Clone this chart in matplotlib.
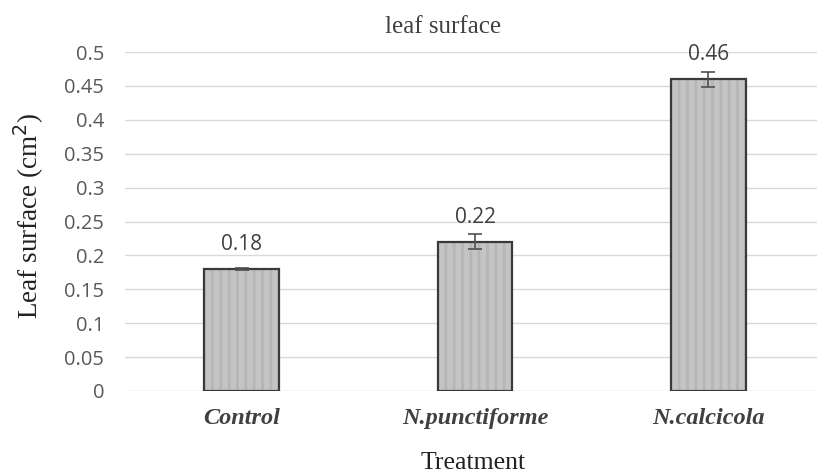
import matplotlib
matplotlib.use("Agg")
import matplotlib.pyplot as plt
import numpy as np

categories = ["Control", "N.punctiforme", "N.calcicola"]
values = [0.18, 0.22, 0.46]
errors = [0.001, 0.011, 0.011]
yticks = [0, 0.05, 0.1, 0.15, 0.2, 0.25, 0.3, 0.35, 0.4, 0.45, 0.5]
ytick_labels = ["0", "0.05", "0.1", "0.15", "0.2", "0.25", "0.3", "0.35", "0.4", "0.45", "0.5"]

plt.rcParams["hatch.linewidth"] = 2.0

fig = plt.figure(figsize=(8.17, 4.76), dpi=100)
ax = fig.add_axes([125 / 817, 1 - 391 / 476, 700 / 817, (391 - 52) / 476])

x = np.arange(len(categories))
# striped grey fill, then the dark outline on top
ax.bar(x, values, width=0.32, color="#c4c4c4", edgecolor="#b6b6b6",
       linewidth=0, hatch="||", zorder=3)
ax.bar(x, values, width=0.32, fill=False, edgecolor="#3a3a3a",
       linewidth=1.6, zorder=4)
ax.errorbar(x, values, yerr=errors, fmt="none", ecolor="#505050",
            elinewidth=1.2, capsize=5, capthick=1.2, zorder=5)

for xi, v in zip(x, values):
    ax.text(xi, v + 0.021, f"{v:g}", ha="center", va="bottom",
            fontsize=15, color="#404040", family="Open Sans")

ax.set_xlim(-0.5, 2.5)
ax.set_ylim(0, 0.5)
ax.set_yticks(yticks)
ax.set_yticklabels(ytick_labels, family="Open Sans", fontsize=14.5, color="#595959")
ax.set_xticks(x)
ax.set_xticklabels(categories, family="Liberation Serif", fontsize=17.5,
                   fontweight="bold", fontstyle="italic", color="#404040")
ax.tick_params(axis="both", length=0)
ax.tick_params(axis="y", pad=15)
ax.tick_params(axis="x", pad=12)
ax.grid(axis="y", color="#d9d9d9", linewidth=1, zorder=0)
for s in ax.spines.values():
    s.set_visible(False)

fig.text(443 / 817, 1 - 27 / 476, "leaf surface", ha="center", va="center",
         family="Liberation Serif", fontsize=18, color="#404040")
fig.text(29 / 817, 1 - 216 / 476, "Leaf surface (cm$^{2}$)", ha="center", va="center",
         rotation=90, family="Liberation Serif", fontsize=19.5, color="#222222")
fig.text(473 / 817, 1 - 463 / 476, "Treatment", ha="center", va="center",
         family="Liberation Serif", fontsize=18.5, color="#222222")

fig.savefig("out.png", dpi=100)
